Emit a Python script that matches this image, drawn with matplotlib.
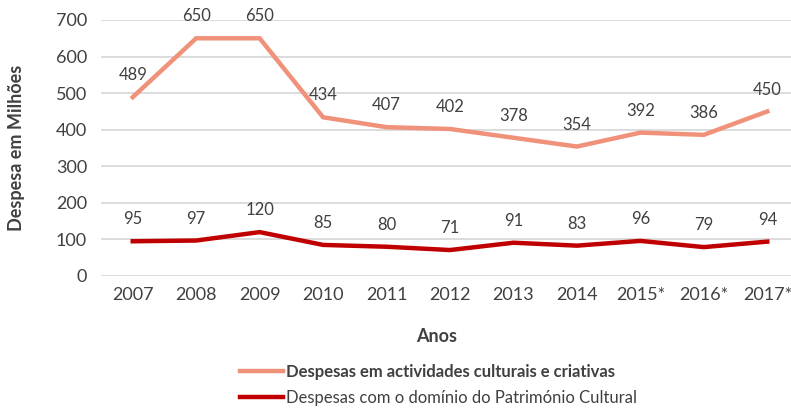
import matplotlib
matplotlib.use("Agg")
import matplotlib.pyplot as plt

years = ["2007", "2008", "2009", "2010", "2011", "2012", "2013", "2014", "2015*", "2016*", "2017*"]
cultural_creative = [489, 650, 650, 434, 407, 402, 378, 354, 392, 386, 450]
heritage = [95, 97, 120, 85, 80, 71, 91, 83, 96, 79, 94]
yticks = [0, 100, 200, 300, 400, 500, 600, 700]

plt.rcParams["font.family"] = ["Lato", "DejaVu Sans"]
text_col = "#404040"
c1 = "#F0917A"
c2 = "#C00000"

fig = plt.figure(figsize=(7.91, 4.08), dpi=100)
ax = fig.add_axes([101 / 791, 1 - 276 / 408, (799 - 101) / 791, (276 - 20) / 408])

x = list(range(len(years)))
l1, = ax.plot(x, cultural_creative, color=c1, lw=3.2, solid_joinstyle="miter", clip_on=False,
              label="Despesas em actividades culturais e criativas", zorder=3)
l2, = ax.plot(x, heritage, color=c2, lw=3.2, solid_joinstyle="miter", clip_on=False,
              label="Despesas com o domínio do Património Cultural", zorder=3)

for xi, v in zip(x, cultural_creative):
    ax.annotate(str(v), (xi, v), xytext=(0, 10), textcoords="offset points",
                ha="center", va="bottom", fontsize=12, color=text_col)
for xi, v in zip(x, heritage):
    ax.annotate(str(v), (xi, v), xytext=(0, 10), textcoords="offset points",
                ha="center", va="bottom", fontsize=12, color=text_col)

ax.set_xlim(-0.5, 10.5)
ax.set_ylim(0, 700)
ax.set_yticks(yticks)
ax.set_xticks(x)
ax.set_xticklabels(years)
ax.tick_params(axis="both", length=0, labelsize=13, colors=text_col)
ax.tick_params(axis="y", pad=10)
ax.tick_params(axis="x", pad=8)
ax.grid(axis="y", color="#D9D9D9", lw=1.3)
ax.set_axisbelow(True)
for s in ax.spines.values():
    s.set_visible(False)

ax.set_ylabel("Despesa em Milhões", fontsize=13, fontweight="bold", color=text_col, labelpad=22)
fig.text(437 / 791, 1 - 337 / 408, "Anos", ha="center", va="center", fontsize=13,
         fontweight="bold", color=text_col)

leg = fig.legend(handles=[l1, l2], loc="upper left", bbox_to_anchor=(240 / 791, 1 - 364 / 408),
                 frameon=False, fontsize=12, handlelength=2.6, handletextpad=0.15,
                 labelspacing=0.6, borderaxespad=0, borderpad=0)
for t in leg.get_texts():
    t.set_color(text_col)
leg.get_texts()[0].set_fontweight("bold")

fig.savefig("out.png", dpi=100)
